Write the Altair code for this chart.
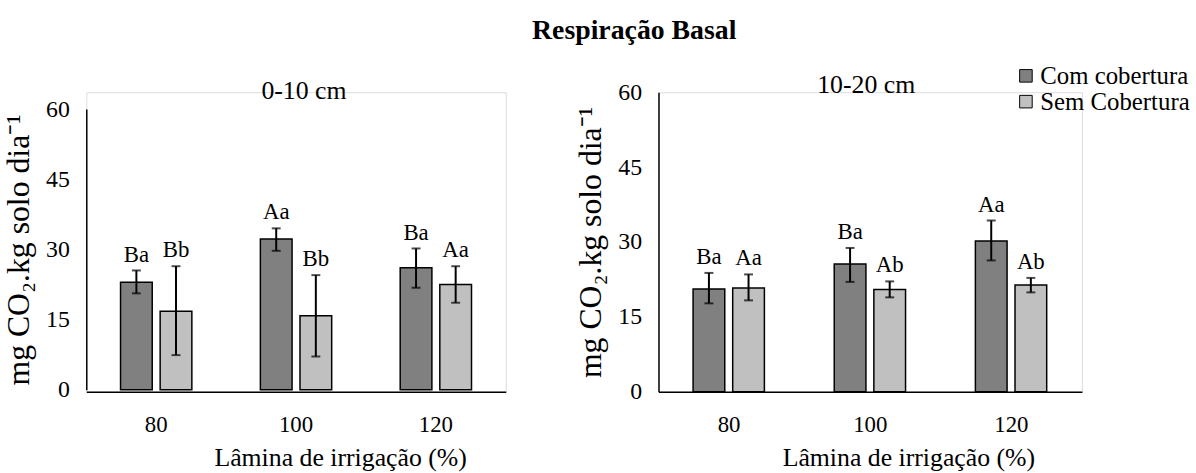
import altair as alt
import pandas as pd

laminas = ["80", "100", "120"]
series = ["Com cobertura", "Sem Cobertura"]
colors = ["#808080", "#c0c0c0"]

# 0-10 cm
com_0_10 = [23.0, 32.2, 26.1]
com_0_10_lo = [20.6, 29.7, 21.8]
com_0_10_hi = [25.5, 34.5, 30.2]
com_0_10_lab = ["Ba", "Aa", "Ba"]
sem_0_10 = [16.8, 15.8, 22.5]
sem_0_10_lo = [7.4, 7.1, 18.6]
sem_0_10_hi = [26.4, 24.5, 26.4]
sem_0_10_lab = ["Bb", "Bb", "Aa"]

# 10-20 cm
com_10_20 = [20.6, 25.6, 30.2]
com_10_20_lo = [17.7, 22.0, 26.3]
com_10_20_hi = [23.8, 28.8, 34.3]
com_10_20_lab = ["Ba", "Ba", "Aa"]
sem_10_20 = [20.8, 20.5, 21.4]
sem_10_20_lo = [18.3, 18.9, 19.9]
sem_10_20_hi = [23.5, 22.1, 22.8]
sem_10_20_lab = ["Aa", "Ab", "Ab"]

y_ticks = [0, 15, 30, 45, 60]
y_title = "mg CO₂.kg solo dia⁻¹"
x_title = "Lâmina de irrigação (%)"
FONT = "Liberation Serif"


def frame(com, com_lo, com_hi, com_lab, sem, sem_lo, sem_hi, sem_lab):
    rows = []
    for i, lam in enumerate(laminas):
        rows.append(dict(lamina=lam, serie=series[0], v=com[i], lo=com_lo[i], hi=com_hi[i], lab=com_lab[i]))
        rows.append(dict(lamina=lam, serie=series[1], v=sem[i], lo=sem_lo[i], hi=sem_hi[i], lab=sem_lab[i]))
    return pd.DataFrame(rows)


def panel(df, title, width, yrange, legend, title_dx, title_dy, xtitle_x):
    x = alt.X("lamina:N", sort=laminas, title=x_title,
              scale=alt.Scale(paddingInner=0.49, paddingOuter=0.245),
              axis=alt.Axis(labelAngle=0, ticks=False, labelPadding=22, titlePadding=8,
                            titleX=xtitle_x,
                            domainColor="black", domainWidth=1.5,
                            labelFont=FONT, labelFontSize=23, labelColor="black",
                            titleFont=FONT, titleFontSize=26, titleFontWeight="normal",
                            titleColor="black"))
    xo = alt.XOffset("serie:N", sort=series,
                     scale=alt.Scale(paddingInner=0.2, paddingOuter=0))
    yscale = alt.Scale(domain=[0, 60], range=yrange)
    y = alt.Y("v:Q", scale=yscale, title=y_title,
              axis=alt.Axis(values=y_ticks, grid=False, ticks=False, labelPadding=17,
                            titlePadding=10, domainColor="black", domainWidth=1.5,
                            labelFont=FONT, labelFontSize=24, labelColor="black",
                            titleFont=FONT, titleFontSize=32, titleFontWeight="normal",
                            titleColor="black"))
    if legend:
        leg = alt.Legend(title=None, orient="none", legendX=358, legendY=-29,
                         symbolType="square", symbolSize=160, symbolStrokeColor="black",
                         symbolStrokeWidth=1, labelFont=FONT, labelFontSize=25,
                         labelColor="black", rowPadding=0, labelOffset=2, symbolOpacity=1)
    else:
        leg = None
    color = alt.Color("serie:N", sort=series,
                      scale=alt.Scale(domain=series, range=colors), legend=leg)
    base = alt.Chart(df)
    bars = base.mark_bar(stroke="black", strokeWidth=1.5, opacity=1).encode(
        x=x, xOffset=xo, y=y, color=color)
    rules = base.mark_rule(color="black", strokeWidth=2).encode(
        x=alt.X("lamina:N", sort=laminas), xOffset=xo,
        y=alt.Y("lo:Q", scale=yscale), y2="hi:Q")
    caps_hi = base.mark_tick(color="black", thickness=2, size=9, orient="horizontal").encode(
        x=alt.X("lamina:N", sort=laminas), xOffset=xo, y=alt.Y("hi:Q", scale=yscale))
    caps_lo = base.mark_tick(color="black", thickness=2, size=9, orient="horizontal").encode(
        x=alt.X("lamina:N", sort=laminas), xOffset=xo, y=alt.Y("lo:Q", scale=yscale))
    labels = base.mark_text(font=FONT, fontSize=23, color="black", baseline="alphabetic",
                            dy=-9).encode(
        x=alt.X("lamina:N", sort=laminas), xOffset=xo,
        y=alt.Y("hi:Q", scale=yscale), text="lab:N")
    return alt.layer(bars, rules, caps_hi, caps_lo, labels).properties(
        width=width, height=302,
        title=alt.TitleParams(title, font=FONT, fontSize=26, fontWeight="normal",
                              color="black", anchor="middle", dx=title_dx, dy=title_dy))


df1 = frame(com_0_10, com_0_10_lo, com_0_10_hi, com_0_10_lab,
            sem_0_10, sem_0_10_lo, sem_0_10_hi, sem_0_10_lab)
df2 = frame(com_10_20, com_10_20_lo, com_10_20_hi, com_10_20_lab,
            sem_10_20, sem_10_20_lo, sem_10_20_hi, sem_10_20_lab)

left = panel(df1, "0-10 cm", 423, [300, 17], False, 8, 16, 256)
right = panel(df2, "10-20 cm", 427, [302, 0], True, -4, 39, 252)

chart = alt.hconcat(left, right, spacing=154, bounds="flush").resolve_scale(
    color="independent"
).properties(
    title=alt.TitleParams("Respiração Basal", font=FONT, fontSize=28, fontWeight="bold",
                          color="black", anchor="middle", dx=38, offset=18),
    padding={"left": 2, "top": 15, "right": 5, "bottom": 2},
).configure_view(strokeWidth=0).configure(background="white")

chart.save("out.html", embed_options={"renderer": "svg", "actions": False})
